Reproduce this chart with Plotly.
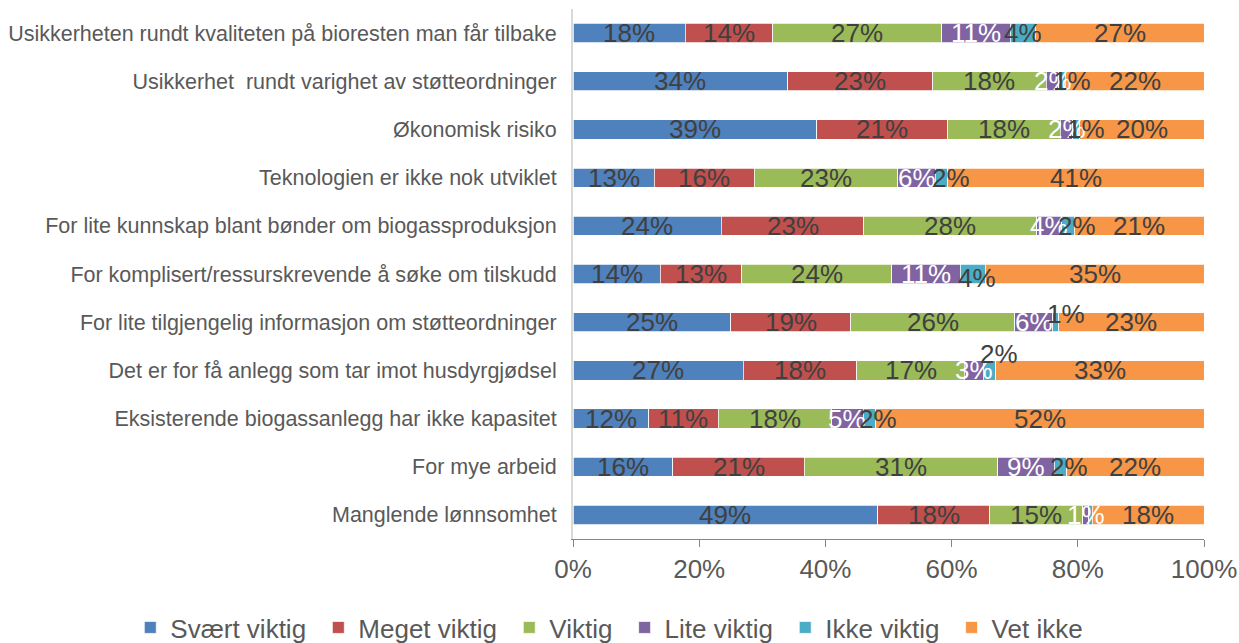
import plotly.graph_objects as go

categories = [
    "Usikkerheten rundt kvaliteten på bioresten man får tilbake",
    "Usikkerhet\u00a0 rundt varighet av støtteordninger",
    "Økonomisk risiko",
    "Teknologien er ikke nok utviklet",
    "For lite kunnskap blant bønder om biogassproduksjon",
    "For komplisert/ressurskrevende å søke om tilskudd",
    "For lite tilgjengelig informasjon om støtteordninger",
    "Det er for få anlegg som tar imot husdyrgjødsel",
    "Eksisterende biogassanlegg har ikke kapasitet",
    "For mye arbeid",
    "Manglende lønnsomhet",
]

series_names = ["Svært viktig", "Meget viktig", "Viktig", "Lite viktig", "Ikke viktig", "Vet ikke"]
svaert_viktig = [18, 34, 39, 13, 24, 14, 25, 27, 12, 16, 49]
meget_viktig = [14, 23, 21, 16, 23, 13, 19, 18, 11, 21, 18]
viktig = [27, 18, 18, 23, 28, 24, 26, 17, 18, 31, 15]
lite_viktig = [11, 2, 2, 6, 4, 11, 6, 3, 5, 9, 1]
ikke_viktig = [4, 1, 1, 2, 2, 4, 1, 2, 2, 2, 0.5]
vet_ikke = [27, 22, 20, 41, 21, 35, 23, 33, 52, 22, 18]

tick_values = [0, 20, 40, 60, 80, 100]
tick_labels = ["0%", "20%", "40%", "60%", "80%", "100%"]

series_values = [svaert_viktig, meget_viktig, viktig, lite_viktig, ikke_viktig, vet_ikke]
colors = ["#4F81BD", "#C0504D", "#9BBB59", "#8064A2", "#4BACC6", "#F79646"]
label_colors = ["#404040", "#404040", "#404040", "#FFFFFF", "#404040", "#404040"]

# pixel offsets for labels that were nudged in the original (series idx, row idx)
label_offsets = {
    (4, 1): (10, 0), (4, 2): (10, 0), (4, 3): (9, 0), (4, 4): (9, 0),
    (4, 5): (4, -4), (4, 6): (10, 8), (4, 7): (10, 16), (4, 8): (8, 0), (4, 9): (9, 0),
}

FONT = "Arial, 'Liberation Sans', sans-serif"
NBSP = "\u00a0"

fig = go.Figure()
for name, vals, col in zip(series_names, series_values, colors):
    fig.add_trace(go.Bar(
        name=name + NBSP, y=categories, x=vals, orientation="h",
        marker=dict(color=col, line=dict(color="#FFFFFF", width=0.75)),
        hoverinfo="skip",
    ))

annotations = []
for r, cat in enumerate(categories):
    total = sum(v[r] for v in series_values)
    cum = 0.0
    for s, vals in enumerate(series_values):
        v = vals[r]
        center = (cum + v / 2) / total * 100
        cum += v
        if v < 1:
            continue
        dx, dy = label_offsets.get((s, r), (0, 0))
        annotations.append(dict(
            x=center, y=cat, xref="x", yref="y", text=f"{round(v)}%",
            showarrow=False, xshift=dx, yshift=dy,
            font=dict(family=FONT, size=26, color=label_colors[s]),
        ))

fig.update_layout(
    barmode="stack", barnorm="percent", bargap=0.6,
    width=1239, height=643,
    margin=dict(l=573, r=35, t=9, b=104, autoexpand=False),
    paper_bgcolor="white", plot_bgcolor="white",
    font=dict(family=FONT, color="#595959"),
    annotations=annotations,
    legend=dict(
        orientation="h", x=-0.7016, xanchor="left", y=-0.167, yanchor="middle",
        font=dict(size=26, color="#595959"), traceorder="normal",
        bgcolor="rgba(0,0,0,0)",
    ),
    xaxis=dict(
        range=[0, 100], tickvals=tick_values, ticktext=tick_labels,
        showgrid=False, zeroline=False, showline=True, linecolor="#868686", linewidth=1,
        ticks="outside", ticklen=7, tickcolor="#868686",
        tickfont=dict(size=26, color="#595959"),
    ),
    yaxis=dict(
        autorange="reversed", showgrid=False, zeroline=False,
        showline=True, linecolor="#D9D9D9", linewidth=2, ticks="",
        tickfont=dict(size=21.5, color="#595959"), ticklabelstandoff=10,
    ),
)

fig.write_html(
    "out.html",
    config={"displayModeBar": False},
    post_script="document.body.style.margin='0';document.body.style.overflow='hidden';",
)
